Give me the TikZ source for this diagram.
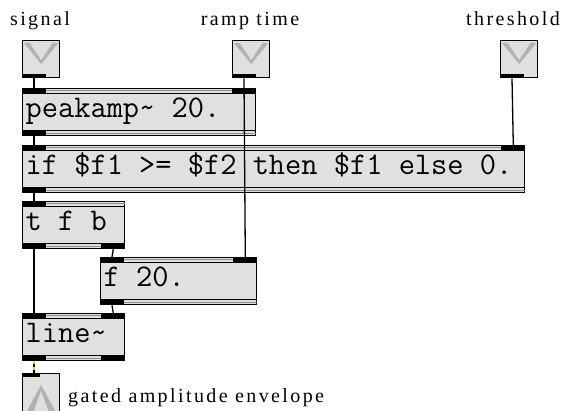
\documentclass[tikz,border=0pt]{standalone}
\usepackage{fontspec}
\newfontfamily\lblfont[LetterSpace=12]{Liberation Serif}
\definecolor{boxgray}{gray}{0.88}
\definecolor{bandgray}{gray}{0.55}
\definecolor{sigyellow}{RGB}{240,200,30}
\newcommand{\objtxt}[2]{\makebox[#1][l]{#2}}
\tikzset{
  obj/.style     = {draw, fill=boxgray, line width=1.3pt, anchor=north west, minimum height=47pt,
                    inner xsep=3pt, inner ysep=0pt, text height=11.5pt, text depth=0pt,
                    font=\ttfamily\fontsize{31.5}{31.5}\selectfont},
  iobox/.style   = {draw, fill=boxgray, line width=1.3pt, anchor=north west, minimum size=37pt, inner sep=0pt},
  wire/.style    = {line width=1.3pt},
  sigwire/.style = {line width=2.2pt, sigyellow, dash pattern=on 3pt off 3pt},
  band/.style    = {line width=1pt, bandgray},
  lbl/.style     = {font=\lblfont\fontsize{20}{20}\selectfont, inner sep=0pt}
}

\begin{document}
\begin{tikzpicture}[x=1pt, y=-1pt]
    \useasboundingbox (0,0) rectangle (563,411);
    % Labels
    \node[lbl, anchor=base] (lsig) at (40,26) {signal};
    \node[lbl, anchor=base] (lramp) at (250,26) {ramp time};
    \node[lbl, anchor=base] (lthr) at (513,26) {threshold};
    % Inlets
    \node[iobox] (sig) at (22,40) {};
    \node[iobox] (ramp) at (232,40) {};
    \node[iobox] (thr) at (500,40) {};
    \foreach \n in {sig, ramp, thr} {
      \fill[gray!60] ([xshift=2pt,yshift=-3pt]\n.north west) -- ([yshift=-5pt]\n.center) -- ([xshift=-2pt,yshift=-3pt]\n.north east) -- cycle;
      \fill[gray!25] ([xshift=8pt,yshift=-3pt]\n.north west) -- ([yshift=-1pt]\n.center) -- ([xshift=-8pt,yshift=-3pt]\n.north east) -- cycle;
      \fill (\n.south west) rectangle ++(24,-4);
    }
    % Objects
    \node[obj] (peak) at (22,88) {\objtxt{227pt}{peakamp\textasciitilde{} 20.}};
    \node[obj] (cond) at (22,145) {\objtxt{496pt}{if \$f1 >= \$f2 then \$f1 else 0.}};
    \node[obj] (trig) at (22,201) {\objtxt{96pt}{t f b}};
    \node[obj] (fl) at (100,257) {\objtxt{150pt}{f 20.}};
    \node[obj] (ln) at (22,313) {\objtxt{96pt}{line\textasciitilde}};
    \foreach \n in {peak, cond, trig, fl, ln} {
      \draw[line width=1pt] ([yshift=-6pt]\n.north west) -- ([yshift=-6pt]\n.north east);
      \draw[line width=1pt] ([yshift=6pt]\n.south west) -- ([yshift=6pt]\n.south east);
      \draw[band] ([yshift=-3pt]\n.north west) -- ([yshift=-3pt]\n.north east);
      \draw[band] ([yshift=3pt]\n.south west) -- ([yshift=3pt]\n.south east);
    }
    % Inlets and outlets of the objects
    \foreach \n in {peak, cond, trig, fl, ln} \fill (\n.north west) rectangle ++(24,6);
    \foreach \n in {peak, cond, fl, ln} \fill (\n.north east) rectangle ++(-24,6);
    \foreach \n in {peak, cond, trig, fl, ln} \fill (\n.south west) rectangle ++(24,-6);
    \foreach \n in {trig, ln} \fill (\n.south east) rectangle ++(-24,-6);
    % Output
    \node[iobox, minimum height=42pt] (out) at (22,373) {};
    \fill[gray!60] ([xshift=2pt]out.south west) -- ([xshift=19pt,yshift=-12pt]out.north west) -- ([xshift=-2pt]out.south east) -- cycle;
    \fill[gray!25] ([xshift=10pt]out.south west) -- ([xshift=19pt,yshift=-18pt]out.north west) -- ([xshift=-10pt]out.south east) -- cycle;
    \fill (out.north west) rectangle ++(18,4);
    \node[lbl, anchor=base west] (lout) at (68,403) {gated amplitude envelope};
    % Wires
    \draw[wire] ([xshift=12pt]sig.south west) -- ([xshift=12pt]peak.north west);
    \draw[wire] ([xshift=12pt]ramp.south west) -- ([xshift=-12pt]fl.north east);
    \draw[wire] ([xshift=12pt]thr.south west) -- ([xshift=-12pt]cond.north east);
    \draw[wire] ([xshift=12pt]peak.south west) -- ([xshift=12pt]cond.north west);
    \draw[wire] ([xshift=12pt]cond.south west) -- ([xshift=12pt]trig.north west);
    \draw[wire] ([xshift=12pt]trig.south west) -- ([xshift=12pt]ln.north west);
    \draw[wire] ([xshift=-12pt]trig.south east) -- ([xshift=12pt]fl.north west);
    \draw[wire] ([xshift=12pt]fl.south west) -- ([xshift=-12pt]ln.north east);
    \draw[wire, line width=2.2pt] ([xshift=12pt]ln.south west) -- ([xshift=12pt]out.north west);
    \draw[sigwire] ([xshift=12pt]ln.south west) -- ([xshift=12pt]out.north west);
  \end{tikzpicture}
\end{document}
